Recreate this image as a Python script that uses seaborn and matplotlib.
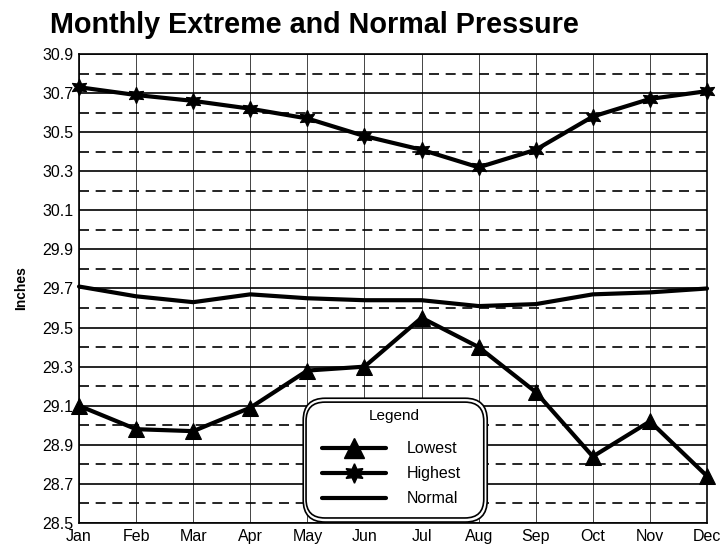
import matplotlib
matplotlib.use("Agg")
import matplotlib.pyplot as plt
from matplotlib.patches import FancyBboxPatch
from matplotlib.ticker import MultipleLocator
import numpy as np
import seaborn as sns

months = ["Jan", "Feb", "Mar", "Apr", "May", "Jun",
          "Jul", "Aug", "Sep", "Oct", "Nov", "Dec"]
lowest = [29.10, 28.98, 28.97, 29.09, 29.28, 29.30,
          29.55, 29.40, 29.17, 28.84, 29.02, 28.74]
highest = [30.73, 30.69, 30.66, 30.62, 30.57, 30.48,
           30.41, 30.32, 30.41, 30.58, 30.67, 30.71]
normal = [29.71, 29.66, 29.63, 29.67, 29.65, 29.64,
          29.64, 29.61, 29.62, 29.67, 29.68, 29.70]
y_ticks = [28.5, 28.7, 28.9, 29.1, 29.3, 29.5, 29.7,
           29.9, 30.1, 30.3, 30.5, 30.7, 30.9]

sns.set_theme(style="white")
plt.rcParams["font.family"] = ["Liberation Sans", "DejaVu Sans"]
plt.rcParams["text.color"] = "black"

x = np.arange(len(months))
star6 = (6, 1, 0)

fig = plt.figure(figsize=(7.23, 5.47), dpi=100)
ax = fig.add_axes([0.1093, 0.0439, 0.8686, 0.8574])

series = [("Lowest", lowest, "^"), ("Highest", highest, star6), ("Normal", normal, None)]
for name, vals, mk in series:
    kw = dict(marker=mk, markersize=12, markeredgecolor="black") if mk else {}
    sns.lineplot(x=x, y=vals, color="black", linewidth=3, ax=ax,
                 legend=False, zorder=5, **kw)
for ln in ax.lines:
    ln.set_clip_on(False)

ax.set_xlim(0, len(months) - 1)
ax.set_ylim(28.5, 30.9)
ax.set_xticks(x)
ax.set_xticklabels(months)
ax.set_yticks(y_ticks)
ax.set_yticklabels([f"{v:.1f}" for v in y_ticks])
ax.yaxis.set_minor_locator(MultipleLocator(0.1))

# grid: solid at labelled levels, dashed in between, thin verticals per month
ax.grid(which="major", axis="y", color="black", linewidth=1.2, linestyle="-", zorder=1)
ax.grid(which="minor", axis="y", color="black", linewidth=1.2,
        linestyle=(0, (6, 4)), zorder=1)
ax.grid(which="major", axis="x", color="#444444", linewidth=0.7, linestyle="-", zorder=1)

ax.tick_params(axis="both", which="both", length=0, labelsize=11.5,
               colors="black", pad=4)
for sp in ax.spines.values():
    sp.set_color("black")
    sp.set_linewidth(1.2)

ax.set_xlabel("")
ax.set_ylabel("Inches", fontsize=10, fontweight="bold", labelpad=10, color="black")

fig.text(0.069, 0.955, "Monthly Extreme and Normal Pressure",
         fontsize=20.7, fontweight="bold", ha="left", va="center", color="black")

# legend panel: two nested rounded boxes, a title and three entries
outer = FancyBboxPatch((0.357, 0.002), 0.293, 0.264,
                       boxstyle="round,pad=0,rounding_size=0.035",
                       transform=ax.transAxes, facecolor="white",
                       edgecolor="black", linewidth=1.2, zorder=8,
                       mutation_aspect=1.34)
inner = FancyBboxPatch((0.3615, 0.0107), 0.283, 0.247,
                       boxstyle="round,pad=0,rounding_size=0.03",
                       transform=ax.transAxes, facecolor="white",
                       edgecolor="black", linewidth=1.2, zorder=9,
                       mutation_aspect=1.34)
ax.add_patch(outer)
ax.add_patch(inner)
ax.text(0.502, 0.229, "Legend", transform=ax.transAxes, ha="center",
        va="center", fontsize=11, zorder=11)

handles = [
    plt.Line2D([], [], color="black", lw=3, marker="^", markersize=14),
    plt.Line2D([], [], color="black", lw=3, marker=star6, markersize=14),
    plt.Line2D([], [], color="black", lw=3),
]
leg = ax.legend(handles, ["Lowest", "Highest", "Normal"],
                loc="upper left", bbox_to_anchor=(0.387, 0.174),
                fontsize=11.5, handlelength=4.0, handletextpad=1.3,
                labelspacing=0.62, borderpad=0, borderaxespad=0,
                frameon=False)
leg.set_zorder(12)

fig.savefig("out.png", dpi=100)
